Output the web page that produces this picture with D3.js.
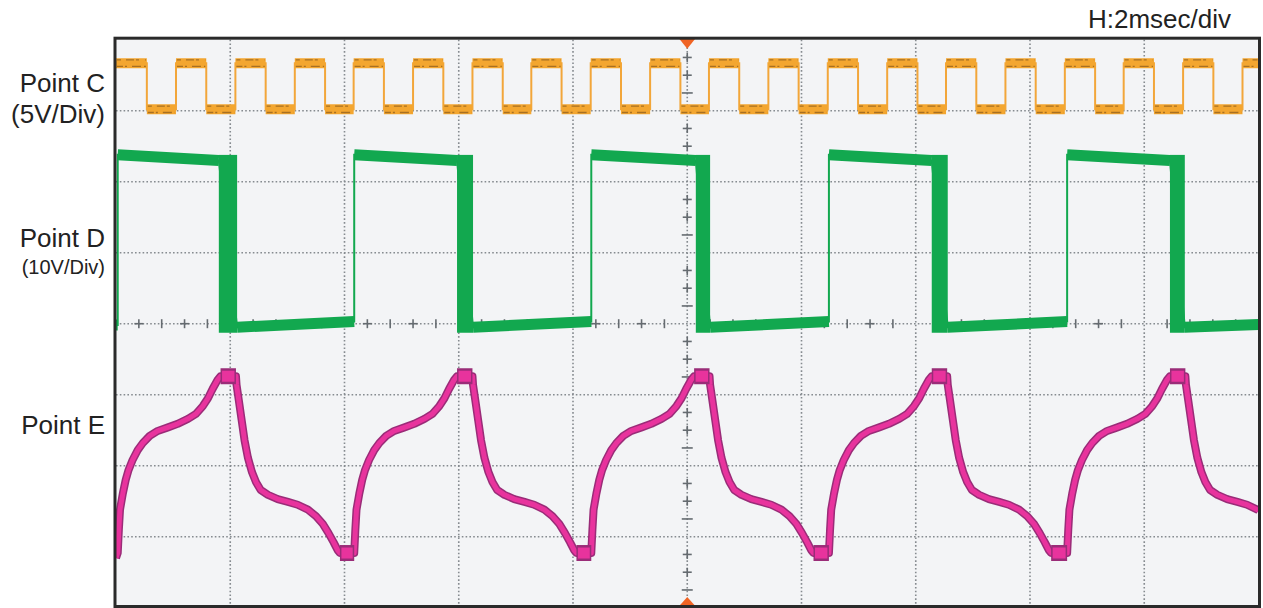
<!DOCTYPE html>
<html>
<head>
<meta charset="utf-8">
<script src="https://cdn.jsdelivr.net/npm/d3@7"></script>
<style>
  body { margin: 0; background: #fff; }
  text { font-family: "Liberation Sans", Arial, sans-serif; fill: #222; }
</style>
</head>
<body>
<script>
// scope capture: time in ms (2 ms/div, 10 div), level in divisions (-4..4)

// Point C - edge times (ms) and levels (div)
var cRise = [1.05, 2.09, 3.13, 4.16, 5.20, 6.24, 7.27, 8.31, 9.35, 10.38, 11.42, 12.46, 13.50, 14.53, 15.57, 16.61, 17.64, 18.68, 19.72];
var cFall = [0.54, 1.58, 2.62, 3.66, 4.69, 5.73, 6.77, 7.80, 8.84, 9.88, 10.91, 11.95, 12.99, 14.03, 15.06, 16.10, 17.14, 18.17, 19.21];
var cHigh = 3.67, cLow = 3.02;

// Point D - plateaus [t0, t1, v0, v1] and jittered falling edges [t0, t1]
var dSegments = [
  [0.00, 0.03, -0.02, -0.02],
  [0.03, 1.80, 2.38, 2.30],
  [2.12, 4.17, -0.05, 0.03],
  [4.17, 5.97, 2.38, 2.30],
  [6.25, 8.32, -0.05, 0.03],
  [8.32, 10.15, 2.38, 2.30],
  [10.40, 12.48, -0.05, 0.03],
  [12.48, 14.28, 2.38, 2.30],
  [14.56, 16.65, -0.05, 0.03],
  [16.65, 18.45, 2.38, 2.30],
  [18.71, 20.00, -0.05, -0.01]
];
var dFalls = [[1.80, 2.12], [5.97, 6.25], [10.15, 10.40], [14.28, 14.56], [18.45, 18.71]];

// Point E - trace [t, v]
var eTrace = [
  [0.00,-3.30],[0.03,-3.23],[0.05,-2.90],[0.07,-2.62],[0.12,-2.39],[0.17,-2.20],[0.22,-2.06],[0.29,-1.92],[0.38,-1.78],[0.47,-1.68],
  [0.59,-1.58],[0.73,-1.51],[0.91,-1.46],[1.08,-1.41],[1.26,-1.34],[1.40,-1.27],[1.52,-1.16],[1.61,-1.05],[1.69,-0.92],[1.78,-0.79],
  [1.83,-0.74],[2.10,-0.74],[2.11,-0.86],[2.15,-1.08],[2.20,-1.36],[2.25,-1.64],[2.31,-1.89],[2.38,-2.09],[2.45,-2.23],[2.53,-2.34],
  [2.66,-2.41],[2.83,-2.47],[3.01,-2.51],[3.18,-2.55],[3.36,-2.62],[3.50,-2.71],[3.62,-2.82],[3.72,-2.95],[3.81,-3.08],[3.88,-3.19],[3.92,-3.23],

  [4.17,-3.23],[4.19,-2.90],[4.21,-2.62],[4.26,-2.39],[4.31,-2.20],[4.36,-2.06],[4.43,-1.92],[4.52,-1.78],[4.61,-1.68],
  [4.73,-1.58],[4.87,-1.51],[5.05,-1.46],[5.22,-1.41],[5.40,-1.34],[5.54,-1.27],[5.66,-1.16],[5.75,-1.05],[5.83,-0.92],[5.92,-0.79],
  [5.97,-0.74],[6.24,-0.74],[6.25,-0.86],[6.29,-1.08],[6.34,-1.36],[6.39,-1.64],[6.45,-1.89],[6.52,-2.09],[6.59,-2.23],[6.67,-2.34],
  [6.80,-2.41],[6.97,-2.47],[7.15,-2.51],[7.32,-2.55],[7.50,-2.62],[7.64,-2.71],[7.76,-2.82],[7.86,-2.95],[7.95,-3.08],[8.02,-3.19],[8.06,-3.23],

  [8.32,-3.23],[8.34,-2.90],[8.36,-2.62],[8.41,-2.39],[8.46,-2.20],[8.51,-2.06],[8.58,-1.92],[8.67,-1.78],[8.76,-1.68],
  [8.88,-1.58],[9.02,-1.51],[9.20,-1.46],[9.37,-1.41],[9.55,-1.34],[9.69,-1.27],[9.81,-1.16],[9.90,-1.05],[9.98,-0.92],[10.07,-0.79],
  [10.12,-0.74],[10.39,-0.74],[10.40,-0.86],[10.44,-1.08],[10.49,-1.36],[10.54,-1.64],[10.60,-1.89],[10.67,-2.09],[10.74,-2.23],[10.82,-2.34],
  [10.95,-2.41],[11.12,-2.47],[11.30,-2.51],[11.47,-2.55],[11.65,-2.62],[11.79,-2.71],[11.91,-2.82],[12.01,-2.95],[12.10,-3.08],[12.17,-3.19],[12.21,-3.23],

  [12.48,-3.23],[12.50,-2.90],[12.52,-2.62],[12.57,-2.39],[12.62,-2.20],[12.67,-2.06],[12.74,-1.92],[12.83,-1.78],[12.92,-1.68],
  [13.04,-1.58],[13.18,-1.51],[13.36,-1.46],[13.53,-1.41],[13.71,-1.34],[13.85,-1.27],[13.97,-1.16],[14.06,-1.05],[14.14,-0.92],[14.23,-0.79],
  [14.28,-0.74],[14.55,-0.74],[14.56,-0.86],[14.60,-1.08],[14.65,-1.36],[14.70,-1.64],[14.76,-1.89],[14.83,-2.09],[14.90,-2.23],[14.98,-2.34],
  [15.11,-2.41],[15.28,-2.47],[15.46,-2.51],[15.63,-2.55],[15.81,-2.62],[15.95,-2.71],[16.07,-2.82],[16.17,-2.95],[16.26,-3.08],[16.33,-3.19],[16.37,-3.23],

  [16.65,-3.23],[16.67,-2.90],[16.69,-2.62],[16.74,-2.39],[16.79,-2.20],[16.84,-2.06],[16.91,-1.92],[17.00,-1.78],[17.09,-1.68],
  [17.21,-1.58],[17.35,-1.51],[17.53,-1.46],[17.70,-1.41],[17.88,-1.34],[18.02,-1.27],[18.14,-1.16],[18.23,-1.05],[18.31,-0.92],[18.40,-0.79],
  [18.45,-0.74],[18.72,-0.74],[18.73,-0.86],[18.77,-1.08],[18.82,-1.36],[18.87,-1.64],[18.93,-1.89],[19.00,-2.09],[19.07,-2.23],[19.15,-2.34],
  [19.28,-2.41],[19.45,-2.47],[19.63,-2.51],[19.80,-2.55],[19.98,-2.62],[20.00,-2.63]
];

// labels
var channelLabels = [
  { text: "Point C", v: 3.27, size: 26 },
  { text: "(5V/Div)", v: 2.83, size: 26 },
  { text: "Point D", v: 1.08, size: 26 },
  { text: "(10V/Div)", v: 0.70, size: 20 },
  { text: "Point E", v: -1.56, size: 26 }
];
var timebaseLabel = "H:2msec/div";

// scales
var x = d3.scaleLinear().domain([0, 20]).range([116, 1258.5]);
var y = d3.scaleLinear().domain([-4, 4]).range([607.7, 39.7]);
var screenBottom = 605;

var svg = d3.select("body").append("svg")
    .attr("width", 1263)
    .attr("height", 608);

svg.append("clipPath").attr("id", "screen")
  .append("rect")
    .attr("x", x(0)).attr("y", y(4))
    .attr("width", x(20) - x(0)).attr("height", screenBottom - y(4));

// screen background
svg.append("rect")
    .attr("x", x(0)).attr("y", y(4))
    .attr("width", x(20) - x(0)).attr("height", screenBottom - y(4))
    .attr("fill", "#f3f4f6");

// graticule
var grid = svg.append("g")
    .attr("stroke", "#868b90")
    .attr("stroke-width", 1.6)
    .attr("stroke-dasharray", "1.6 2.2");

grid.selectAll(".vx").data(d3.range(2, 20, 2)).enter().append("line")
    .attr("x1", d => x(d)).attr("x2", d => x(d))
    .attr("y1", y(4)).attr("y2", screenBottom);

grid.selectAll(".hy").data(d3.range(-3, 4, 1)).enter().append("line")
    .attr("y1", d => y(d)).attr("y2", d => y(d))
    .attr("x1", x(0)).attr("x2", x(20));

// centre line minor ticks
var ticks = svg.append("g")
    .attr("stroke", "#656b70")
    .attr("stroke-width", 1.6);

var hTicks = d3.range(1, 50).filter(k => k % 5 !== 0);
ticks.selectAll(".ht").data(hTicks).enter().append("line")
    .attr("x1", k => x(k * 0.4)).attr("x2", k => x(k * 0.4))
    .attr("y1", y(0) - 4.5).attr("y2", y(0) + 4.5);
ticks.selectAll(".hh").data(hTicks.filter(k => k % 2 === 1)).enter().append("line")
    .attr("x1", k => x(k * 0.4) - 4.5).attr("x2", k => x(k * 0.4) + 4.5)
    .attr("y1", y(0)).attr("y2", y(0));

var vTicks = d3.range(-15, 16).filter(k => k % 4 !== 0);
ticks.selectAll(".vt").data(vTicks).enter().append("line")
    .attr("x1", k => x(10) - (((k % 4) + 4) % 4 === 1 ? 5.5 : 4.5))
    .attr("x2", k => x(10) + (((k % 4) + 4) % 4 === 1 ? 5.5 : 4.5))
    .attr("y1", k => y(k * 0.25)).attr("y2", k => y(k * 0.25));
ticks.selectAll(".vv").data(vTicks.filter(k => ((k % 4) + 4) % 4 !== 1)).enter().append("line")
    .attr("x1", x(10)).attr("x2", x(10))
    .attr("y1", k => y(k * 0.25) - 4.5).attr("y2", k => y(k * 0.25) + 4.5);

var traces = svg.append("g").attr("clip-path", "url(#screen)");

// ---- Point C (orange) ----
var edges = cRise.map(t => [t, cHigh]).concat(cFall.map(t => [t, cLow]))
    .sort((a, b) => a[0] - b[0]);
var cSegs = [];
var t0 = 0, level = cHigh;
edges.forEach(function(e) {
  cSegs.push([t0, e[0], level]);
  t0 = e[0]; level = e[1];
});
cSegs.push([t0, 20, level]);

var cSteps = [];
cSegs.forEach(s => { cSteps.push([s[0], s[2]]); cSteps.push([s[1], s[2]]); });

var line = d3.line().x(d => x(d[0])).y(d => y(d[1]));

traces.append("path").datum(cSteps)
    .attr("d", line).attr("fill", "none")
    .attr("stroke", "#f2a63a").attr("stroke-width", 2);

traces.selectAll(".cseg").data(cSegs).enter().append("line")
    .attr("x1", d => x(d[0])).attr("x2", d => x(d[1]))
    .attr("y1", d => y(d[2])).attr("y2", d => y(d[2]))
    .attr("stroke", "#f3a630").attr("stroke-width", 10);

[-3.2, 3.2].forEach(function(off, i) {
  traces.selectAll(".cspk" + i).data(cSegs).enter().append("line")
      .attr("x1", d => x(d[0]) + 1).attr("x2", d => x(d[1]) - 1)
      .attr("y1", d => y(d[2]) + off).attr("y2", d => y(d[2]) + off)
      .attr("stroke", "#8f5f1e").attr("stroke-width", 1.3)
      .attr("stroke-dasharray", i ? "6 2 2 5 9 3 3 4" : "4 5 8 2 3 6 5 3")
      .attr("opacity", 0.75);
});

// ---- Point D (green) ----
var dPath = [];
dSegments.forEach(s => { dPath.push([s[0], s[2]]); dPath.push([s[1], s[3]]); });

traces.append("path").datum(dPath)
    .attr("d", line).attr("fill", "none")
    .attr("stroke", "#12a84f").attr("stroke-width", 2);

traces.selectAll(".dseg").data(dSegments).enter().append("line")
    .attr("x1", d => x(d[0])).attr("x2", d => x(d[1]))
    .attr("y1", d => y(d[2])).attr("y2", d => y(d[3]))
    .attr("stroke", "#12a84f").attr("stroke-width", 11);

traces.selectAll(".dfall").data(dFalls).enter().append("rect")
    .attr("x", d => x(d[0])).attr("width", d => x(d[1]) - x(d[0]))
    .attr("y", y(2.30) - 5.5).attr("height", y(-0.05) - y(2.30) + 11)
    .attr("fill", "#12a84f");

// ---- Point E (magenta) ----
traces.append("path").datum(eTrace)
    .attr("d", line).attr("fill", "none")
    .attr("stroke", "#9a2c78").attr("stroke-width", 8)
    .attr("stroke-linejoin", "round");
traces.append("path").datum(eTrace)
    .attr("d", line).attr("fill", "none")
    .attr("stroke", "#e8339d").attr("stroke-width", 5)
    .attr("stroke-linejoin", "round");

// flat peaks / troughs show a wider noise band
var eFlats = [];
for (var i = 1; i < eTrace.length; i++) {
  if (eTrace[i][1] === eTrace[i - 1][1]) eFlats.push([eTrace[i - 1], eTrace[i]]);
}
traces.selectAll(".eflat").data(eFlats).enter().append("line")
    .attr("x1", d => x(d[0][0])).attr("x2", d => x(d[1][0]))
    .attr("y1", d => y(d[0][1])).attr("y2", d => y(d[1][1]))
    .attr("stroke", "#9a2c78").attr("stroke-width", 16);
traces.selectAll(".eflat2").data(eFlats).enter().append("line")
    .attr("x1", d => x(d[0][0]) + 1.5).attr("x2", d => x(d[1][0]) - 1.5)
    .attr("y1", d => y(d[0][1])).attr("y2", d => y(d[1][1]))
    .attr("stroke", "#e8339d").attr("stroke-width", 11);

// trigger markers
var tx = x(10);
svg.append("path")
    .attr("d", "M" + (tx - 8) + "," + (y(4) - 1) + "L" + (tx + 8) + "," + (y(4) - 1) + "L" + tx + "," + (y(4) + 9) + "Z")
    .attr("fill", "#f06424");
svg.append("path")
    .attr("d", "M" + (tx - 8) + "," + (screenBottom + 1) + "L" + (tx + 8) + "," + (screenBottom + 1) + "L" + tx + "," + (screenBottom - 8) + "Z")
    .attr("fill", "#f06424");

// frame
svg.append("rect")
    .attr("x", x(0) - 1).attr("y", y(4) - 1.5)
    .attr("width", x(20) - x(0) + 2).attr("height", screenBottom - y(4) + 3)
    .attr("fill", "none")
    .attr("stroke", "#2a2a2a")
    .attr("stroke-width", 3);

// labels
svg.selectAll(".lbl").data(channelLabels).enter().append("text")
    .attr("x", 105)
    .attr("y", d => y(d.v))
    .attr("text-anchor", "end")
    .style("font-size", d => d.size + "px")
    .text(d => d.text);

svg.append("text")
    .attr("x", 1231).attr("y", 28)
    .attr("text-anchor", "end")
    .style("font-size", "26px")
    .text(timebaseLabel);
</script>
</body>
</html>
